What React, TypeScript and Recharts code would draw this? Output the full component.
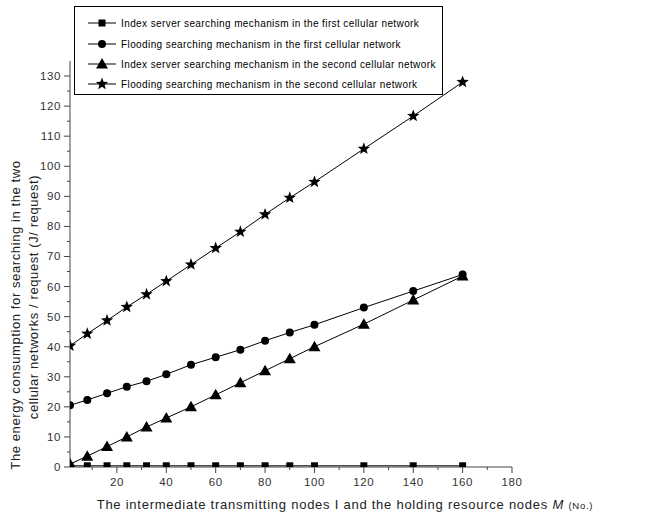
import React from "react";
import { LineChart, Line, XAxis, YAxis } from "recharts";

// intermediate transmitting nodes I / holding resource nodes M
const nodes = [1, 8, 16, 24, 32, 40, 50, 60, 70, 80, 90, 100, 120, 140, 160];

// energy consumption (J / request)
const indexFirst = [0.4, 0.4, 0.4, 0.4, 0.4, 0.4, 0.4, 0.4, 0.4, 0.4, 0.4, 0.4, 0.4, 0.4, 0.4];
const floodFirst = [20.5, 22.3, 24.5, 26.7, 28.5, 30.8, 34, 36.5, 39, 42, 44.7, 47.3, 53, 58.5, 64];
const indexSecond = [1, 3.6, 6.8, 10, 13.3, 16.3, 20, 24, 28, 32, 36, 40, 47.5, 55.5, 63.5];
const floodSecond = [40.3, 44.3, 48.7, 53.2, 57.4, 61.8, 67.3, 72.8, 78.2, 84, 89.5, 94.8, 105.8, 116.7, 128];

const seriesNames = [
  "Index server searching mechanism in the first cellular network",
  "Flooding searching mechanism in the first cellular network",
  "Index server searching mechanism in the second cellular network",
  "Flooding searching mechanism in the second cellular network",
];
const seriesKeys = ["indexFirst", "floodFirst", "indexSecond", "floodSecond"];
const markers = ["square", "circle", "triangle", "star"];

const xTicks = [10, 20, 30, 40, 50, 60, 70, 80, 90, 100, 110, 120, 130, 140, 150, 160, 170, 180];
const yTicks = [0, 5, 10, 15, 20, 25, 30, 35, 40, 45, 50, 55, 60, 65, 70, 75, 80, 85, 90, 95, 100, 105, 110, 115, 120, 125, 130];

const data = nodes.map((x, i) => ({
  x,
  indexFirst: indexFirst[i],
  floodFirst: floodFirst[i],
  indexSecond: indexSecond[i],
  floodSecond: floodSecond[i],
}));

const font = '"Liberation Sans", Arial, sans-serif';
const axisColor = "#444";

function starPath(cx: number, cy: number, ro: number, ri: number) {
  let d = "";
  for (let i = 0; i < 10; i++) {
    const r = i % 2 === 0 ? ro : ri;
    const a = -Math.PI / 2 + (i * Math.PI) / 5;
    d += (i === 0 ? "M" : "L") + (cx + r * Math.cos(a)).toFixed(2) + "," + (cy + r * Math.sin(a)).toFixed(2);
  }
  return d + "Z";
}

function Marker({ kind, cx, cy }: { kind: string; cx: number; cy: number }) {
  if (kind === "square") return <rect x={cx - 3.5} y={cy - 3.5} width={7} height={7} fill="#000" />;
  if (kind === "circle") return <circle cx={cx} cy={cy} r={4} fill="#000" />;
  if (kind === "triangle")
    return <polygon points={`${cx},${cy - 6} ${cx - 6},${cy + 4.5} ${cx + 6},${cy + 4.5}`} fill="#000" />;
  return <path d={starPath(cx, cy, 6.5, 2.7)} fill="#000" />;
}

const makeDot = (kind: string) => (props: any) => {
  const { cx, cy, index } = props;
  if (cx == null || cy == null) return <g key={index} />;
  return (
    <g key={index}>
      <Marker kind={kind} cx={cx} cy={cy} />
    </g>
  );
};

const YTick = (props: any) => {
  const { x, y, payload } = props;
  const major = payload.value % 10 === 0;
  return (
    <g>
      <line x1={x} x2={x - (major ? 6 : 3)} y1={y} y2={y} stroke={axisColor} />
      {major && (
        <text x={x - 9} y={y + 4} textAnchor="end" fontSize={11.5} letterSpacing={0.6} fill="#333" fontFamily={font}>
          {payload.value}
        </text>
      )}
    </g>
  );
};

const XTick = (props: any) => {
  const { x, y, payload } = props;
  const major = payload.value % 20 === 0;
  return (
    <g>
      <line x1={x} x2={x} y1={y} y2={y + (major ? 6 : 3)} stroke={axisColor} />
      {major && (
        <text x={x} y={y + 19} textAnchor="middle" fontSize={11.5} letterSpacing={0.6} fill="#333" fontFamily={font}>
          {payload.value}
        </text>
      )}
    </g>
  );
};

function LegendBox() {
  const rows = [26, 47, 67, 87];
  return (
    <g>
      <rect x={74.5} y={6.5} width={368} height={88} fill="#fff" stroke="#000" />
      {seriesNames.map((name, i) => (
        <g key={name}>
          <line x1={88} x2={116} y1={rows[i] - 3} y2={rows[i] - 3} stroke="#000" />
          <Marker kind={markers[i]} cx={102} cy={rows[i] - 3} />
          <text x={121} y={rows[i] + 1} fontSize={10} letterSpacing={0.4} fill="#000" fontFamily={font}>
            {name}
          </text>
        </g>
      ))}
    </g>
  );
}

export default function App() {
  return (
    <div style={{ position: "absolute", left: 0, top: 0, width: 653, height: 518, background: "#fff" }}>
      <LineChart width={653} height={518} data={data} margin={{ top: 61, right: 141, bottom: 0, left: 0 }}>
        <XAxis
          dataKey="x"
          type="number"
          domain={[1, 180]}
          ticks={xTicks}
          interval={0}
          height={51}
          tickSize={0}
          tickMargin={0}
          tickLine={false}
          tick={<XTick />}
          stroke={axisColor}
          allowDataOverflow
        />
        <YAxis
          type="number"
          domain={[0, 135]}
          ticks={yTicks}
          interval={0}
          width={70}
          tickSize={0}
          tickMargin={0}
          tickLine={false}
          tick={<YTick />}
          stroke={axisColor}
          allowDataOverflow
        />
        {seriesKeys.map((k, i) => (
          <Line
            key={k}
            dataKey={k}
            name={seriesNames[i]}
            stroke="#000"
            strokeWidth={1}
            dot={makeDot(markers[i])}
            activeDot={false}
            isAnimationActive={false}
          />
        ))}
      </LineChart>
      <svg width={653} height={518} style={{ position: "absolute", left: 0, top: 0, pointerEvents: "none" }}>
        <LegendBox />
        <text
          transform="translate(20,315) rotate(-90)"
          textAnchor="middle"
          fontSize={13}
          letterSpacing={0.6}
          fill="#222"
          fontFamily={font}
        >
          The energy consumption for searching in the two
        </text>
        <text
          transform="translate(38,297) rotate(-90)"
          textAnchor="middle"
          fontSize={13}
          letterSpacing={0.6}
          fill="#222"
          fontFamily={font}
        >
          cellular networks / request (J/ request)
        </text>
        <text x={345} y={509} textAnchor="middle" fontSize={13} letterSpacing={0.75} fill="#222" fontFamily={font}>
          The intermediate transmitting nodes I and the holding resource nodes{" "}
          <tspan fontStyle="italic">M</tspan> <tspan fontSize={9.5}>(No.)</tspan>
        </text>
      </svg>
    </div>
  );
}
